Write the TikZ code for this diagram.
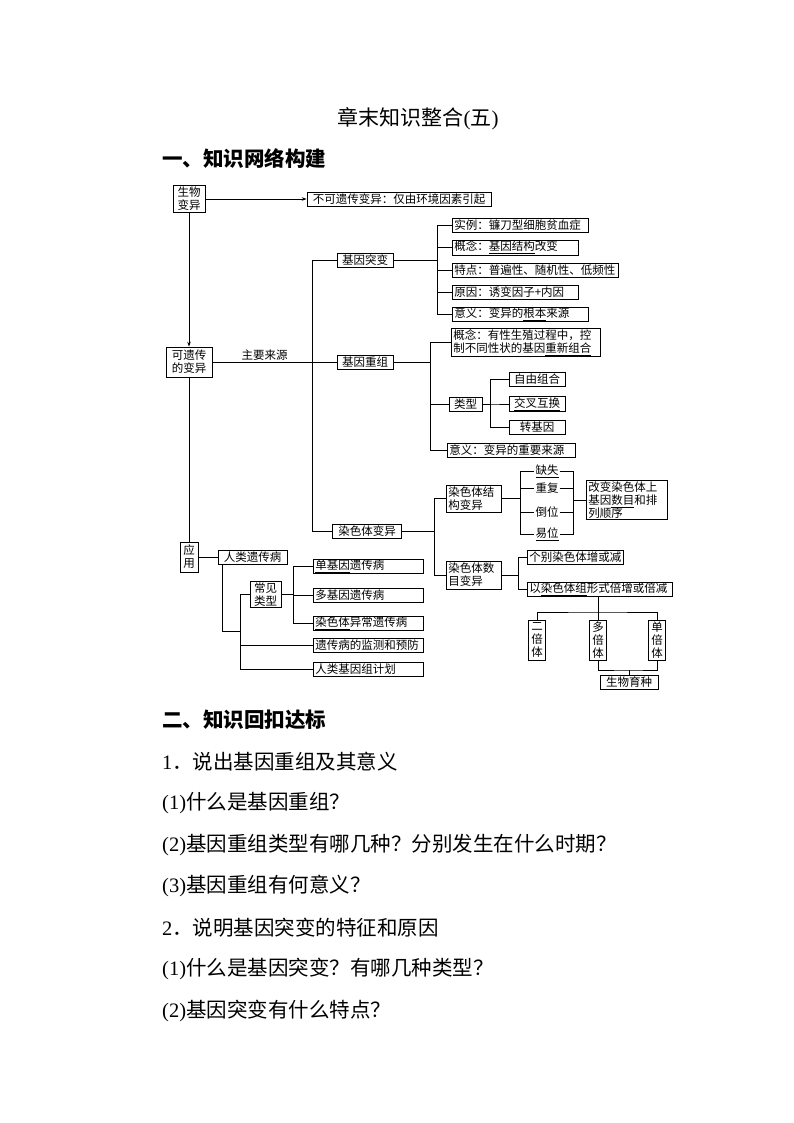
\documentclass[tikz,border=0pt]{standalone}
\usepackage{fontspec}
\setmainfont{Noto Sans CJK SC}
\newfontfamily\latin{Liberation Serif}
\usetikzlibrary{arrows.meta}

\tikzset{
  box/.style={draw, line width=.7pt, inner xsep=2pt, inner ysep=1pt,
    minimum height=14pt, align=center, font=\fontsize{11.5}{13}\selectfont},
  leaf/.style={box, anchor=west, align=left},
  tag/.style={inner sep=1pt, font=\fontsize{11.5}{13}\selectfont},
  head/.style={anchor=west, inner sep=0pt, font=\fontsize{20.5}{20.5}\selectfont\bfseries},
  ask/.style={anchor=west, inner sep=0pt, font=\fontsize{20.5}{20.5}\selectfont},
  tip/.style={-{Stealth[length=5pt,width=3.5pt]}},
}

\begin{document}
\begin{tikzpicture}[x=1pt, y=-1pt]
  \useasboundingbox[fill=white] (0,0) rectangle (794,1123);

  % page text
  \node[inner sep=0pt, font=\fontsize{21}{21}\selectfont] (title) at (418,119)
    {章末知识整合{\latin(}五{\latin)}};
  \node[head] (part1) at (162,159) {一、知识网络构建};
  \node[head] (part2) at (162,720) {二、知识回扣达标};
  \node[ask] (q1)  at (162,762)  {{\latin 1}．说出基因重组及其意义};
  \node[ask] (q11) at (162,803)  {{\latin (1)}什么是基因重组？};
  \node[ask] (q12) at (162,845)  {{\latin (2)}基因重组类型有哪几种？分别发生在什么时期？};
  \node[ask] (q13) at (162,886)  {{\latin (3)}基因重组有何意义？};
  \node[ask] (q2)  at (162,928)  {{\latin 2}．说明基因突变的特征和原因};
  \node[ask] (q21) at (162,969)  {{\latin (1)}什么是基因突变？有哪几种类型？};
  \node[ask] (q22) at (162,1011) {{\latin (2)}基因突变有什么特点？};

  \begin{scope}[every node/.style=box]
    % left column
    \node[minimum width=32pt, minimum height=27pt] (bio) at (189,199) {生物\\变异};
    \node[minimum width=184pt] (nonh) at (399,199) {不可遗传变异：仅由环境因素引起};
    \node[minimum width=46pt, minimum height=30pt] (her) at (189,362) {可遗传\\的变异};
    \node[minimum width=18pt, minimum height=30pt] (use) at (189,557) {应\\用};

    % gene mutation
    \node[minimum width=56pt] (mut) at (365,260) {基因突变};
    \node[leaf, text width=132pt] (muta) at (452,225) {实例：镰刀型细胞贫血症};
    \node[leaf, text width=122pt] (mutb) at (452,247.5) {概念：\underline{基因结构}改变};
    \node[leaf, text width=162pt] (mutc) at (452,270) {特点：普遍性、随机性、低频性};
    \node[leaf, text width=122pt] (mutd) at (452,292) {原因：诱变因子+内因};
    \node[leaf, text width=132pt] (mute) at (452,314.5) {意义：变异的\underline{根本}来源};

    % gene recombination
    \node[minimum width=56pt] (rec) at (365,362) {基因重组};
    \node[leaf, text width=145pt] (reca) at (451,342.5)
      {概念：有性生殖过程中，控\\制不同性状的基因\underline{重新组合}};
    \node[minimum width=33pt] (rect) at (465.5,404) {类型};
    \node[leaf, text width=124pt] (recs) at (447,450) {意义：变异的重要来源};
    \node[minimum width=56pt] (t1) at (537,379) {自由组合};
    \node[minimum width=56pt] (t2) at (537,404) {\underline{交叉互换}};
    \node[minimum width=56pt] (t3) at (537,427) {转基因};

    % chromosome variation
    \node[minimum width=69pt] (chr) at (367,531) {染色体变异};
    \node[leaf, text width=51pt, minimum height=27pt] (st) at (446,498.5) {染色体结\\构变异};
    \node[leaf, text width=51pt, minimum height=28pt] (nu) at (446,575) {染色体数\\目变异};
    \node[leaf, text width=77pt, minimum height=35pt] (gc) at (586,500)
      {改变染色体上\\基因\underline{数目}和排\\列顺序};
    \node[leaf, text width=92pt] (c1) at (527,557) {个别染色体增或减};
    \node[leaf, text width=141pt] (c2) at (527,589.5) {以\underline{染色体组}形式倍增或倍减};
    \node[minimum width=17pt, minimum height=40pt, inner xsep=1pt] (p1) at (537,640) {二\\倍\\体};
    \node[minimum width=17pt, minimum height=40pt, inner xsep=1pt] (p2) at (598,640) {多\\倍\\体};
    \node[minimum width=17pt, minimum height=40pt, inner xsep=1pt] (p3) at (657,640) {单\\倍\\体};
    \node[minimum width=58pt] (breed) at (629,682.5) {生物育种};

    % human genetic disease
    \node[minimum width=69pt] (hd) at (252.5,557) {人类遗传病};
    \node[minimum width=31pt, minimum height=25pt] (ct) at (265.5,594.5) {常见\\类型};
    \node[leaf, text width=106pt] (k1) at (313,566.5) {\underline{单基因}遗传病};
    \node[leaf, text width=106pt] (k2) at (313,595) {多基因遗传病};
    \node[leaf, text width=106pt] (k3) at (313,623.5) {\underline{染色体}异常遗传病};
    \node[leaf, text width=106pt] (k4) at (313,645.5) {遗传病的监测和预防};
    \node[leaf, text width=106pt] (k5) at (313,669.5) {人类基因组计划};
  \end{scope}

  \begin{scope}[every node/.style=tag]
    \node (q1s) at (547,471) {\underline{缺失}};
    \node (q2s) at (547,488) {重复};
    \node (q3s) at (547,512) {倒位};
    \node (q4s) at (547,534) {\underline{易位}};
  \end{scope}

  \begin{scope}[line width=.7pt]
    \draw[tip] (bio) -- (nonh);
    \draw[tip] (bio) -- (her);
    \draw (her) -- (use);
    \draw (her) -- node[tag, above, pos=.42] {主要来源} (rec);
    \draw (mut.west) -- ++(-24,0) |- (chr.west);

    \foreach \k in {a,b,c,d,e}
      \draw (mut.east) -- ++(44,0) |- (mut\k.west);
    \foreach \k in {reca,rect,recs}
      \draw (rec.east) -- ++(37,0) |- (\k.west);
    \foreach \k in {t1,t2,t3}
      \draw (rect.east) -- ++(8,0) |- (\k.west);

    \foreach \k in {st,nu}
      \draw (chr.east) -- ++(32,0) |- (\k.west);
    \coordinate (qb) at (573,500);
    \foreach \k in {1,...,4} {
      \draw (st.east) -- ++(19,0) |- (q\k s.west);
      \draw (q\k s.east) -| (qb);
    }
    \draw (qb) -- (gc.west);
    \foreach \k in {c1,c2}
      \draw (nu.east) -- ++(17,0) |- (\k.west);

    \coordinate (split) at (598,612);
    \draw (c2.south -| split) -- (split);
    \draw (p1) |- (split) -| (p3);
    \draw (split) -- (p2);
    \coordinate (join) at (629,670);
    \draw (p2) |- (join) -| (p3);
    \draw (join) -- (breed);

    \draw (use) -- (hd);
    \coordinate (hb) at (241,631);
    \draw ([xshift=5pt]hd.south west) |- (hb);
    \foreach \k in {4,5}
      \draw (ct.west) -- ++(-9.5,0) |- (k\k.west);
    \foreach \k in {1,2,3}
      \draw (ct.east) -- ++(12,0) |- (k\k.west);
  \end{scope}

\end{tikzpicture}
\end{document}
